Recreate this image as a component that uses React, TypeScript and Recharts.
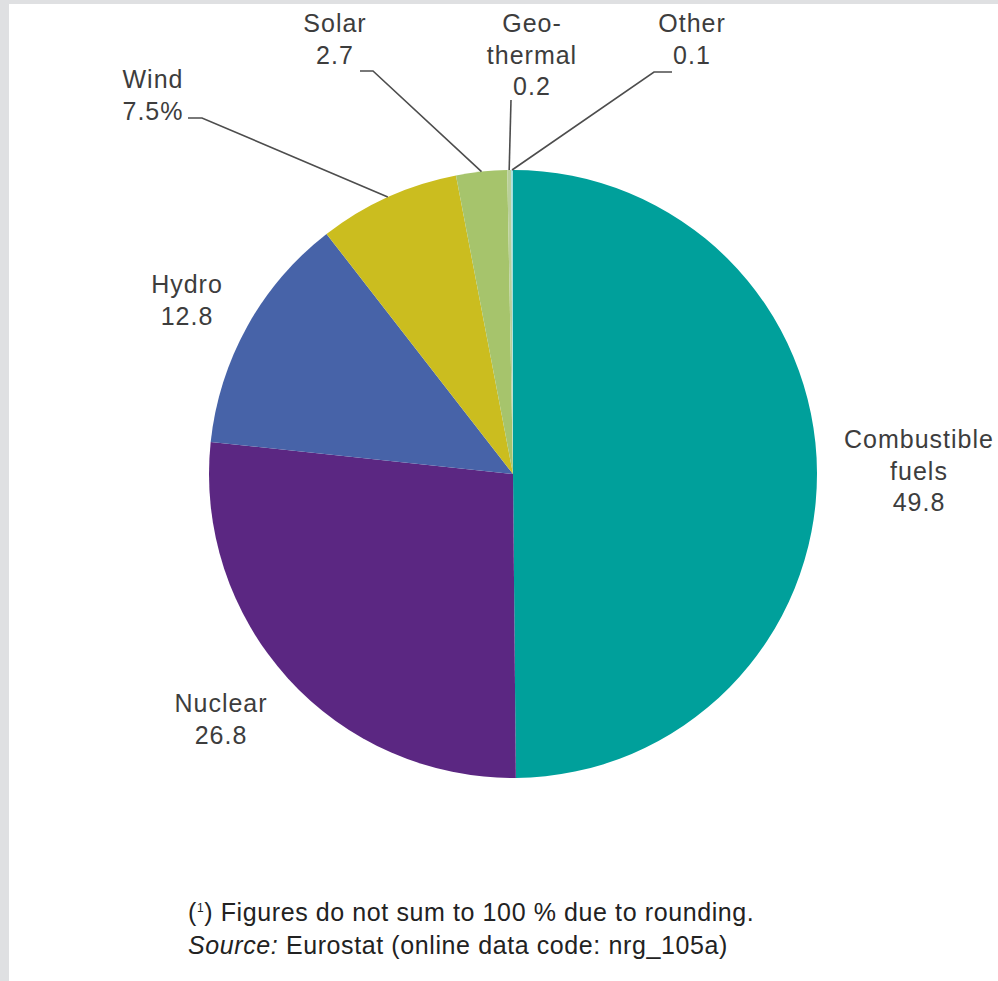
import React from "react";
import { Cell, Pie, PieChart } from "recharts";

// Electricity production by source, % share
const categories = ["Combustible fuels", "Nuclear", "Hydro", "Wind", "Solar", "Geothermal", "Other"];
const shares = [49.8, 26.8, 12.8, 7.5, 2.7, 0.2, 0.1];
const labelTexts = [
  ["Combustible", "fuels", "49.8"],
  ["Nuclear", "26.8"],
  ["Hydro", "12.8"],
  ["Wind", "7.5%"],
  ["Solar", "2.7"],
  ["Geo-", "thermal", "0.2"],
  ["Other", "0.1"],
];
const colors = ["#00a09b", "#5b2782", "#4763a8", "#cbbd1f", "#a6c46c", "#b9cf9a", "#a3dedd"];

// label placement (page px): centre x, first line centre y, leader line points ending at the slice edge
const labelLayout: Array<{ x: number; y: number; leader: Array<[number, number]> }> = [
  { x: 919, y: 439, leader: [] },
  { x: 221, y: 703, leader: [] },
  { x: 187, y: 284, leader: [] },
  { x: 153, y: 79, leader: [[188, 118], [202, 118]] },
  { x: 335, y: 23, leader: [[360, 71], [373, 71]] },
  { x: 532, y: 23, leader: [[511, 100]] },
  { x: 692, y: 23, leader: [[672, 72], [654, 72]] },
];

const data = categories.map((name, i) => ({ name, value: shares[i] }));

const RADIAN = Math.PI / 180;
const FONT = "'Liberation Sans', Arial, sans-serif";

function renderLabel(props: any) {
  const { cx, cy, midAngle, outerRadius, index } = props;
  const layout = labelLayout[index];
  const lines = labelTexts[index];
  const ex = cx + outerRadius * Math.cos(-midAngle * RADIAN);
  const ey = cy + outerRadius * Math.sin(-midAngle * RADIAN);
  const pts = layout.leader.length ? [...layout.leader, [ex, ey]] : [];
  return (
    <g>
      {pts.length > 0 && (
        <polyline
          points={pts.map((p) => p.join(",")).join(" ")}
          fill="none"
          stroke="#4d4d4d"
          strokeWidth={1.6}
        />
      )}
      <text
        x={layout.x}
        y={layout.y + 9}
        textAnchor="middle"
        fill="#3d3d3d"
        fontSize={25}
        fontFamily={FONT}
        letterSpacing={1}
      >
        {lines.map((line, i) => (
          <tspan key={i} x={layout.x} dy={i === 0 ? 0 : 31.5}>
            {line}
          </tspan>
        ))}
      </text>
    </g>
  );
}

export default function App() {
  return (
    <div style={{ position: "absolute", left: 0, top: 0, width: 998, height: 981, background: "#dfe0e2" }}>
      <div style={{ position: "absolute", left: 9, top: 4, width: 989, height: 977, background: "#ffffff" }} />
      <div style={{ position: "absolute", left: 0, top: 0 }}>
        <PieChart width={998} height={860} margin={{ top: 0, right: 0, bottom: 0, left: 0 }}>
          <Pie
            data={data}
            dataKey="value"
            nameKey="name"
            cx={513}
            cy={474}
            outerRadius={304}
            startAngle={90}
            endAngle={-270}
            stroke="none"
            label={renderLabel}
            labelLine={false}
            isAnimationActive={false}
          >
            {data.map((d, i) => (
              <Cell key={d.name} fill={colors[i]} />
            ))}
          </Pie>
        </PieChart>
      </div>
      <div
        style={{
          position: "absolute",
          left: 188,
          top: 896,
          fontFamily: FONT,
          fontSize: 25,
          lineHeight: "33px",
          color: "#222",
          letterSpacing: 0.6,
          whiteSpace: "nowrap",
        }}
      >
        <div>
          (<sup style={{ fontSize: 12, verticalAlign: "9px", lineHeight: 0 }}>1</sup>) Figures do not sum to 100 % due to rounding.
        </div>
        <div>
          <i>Source:</i> Eurostat (online data code: nrg_105a)
        </div>
      </div>
    </div>
  );
}
